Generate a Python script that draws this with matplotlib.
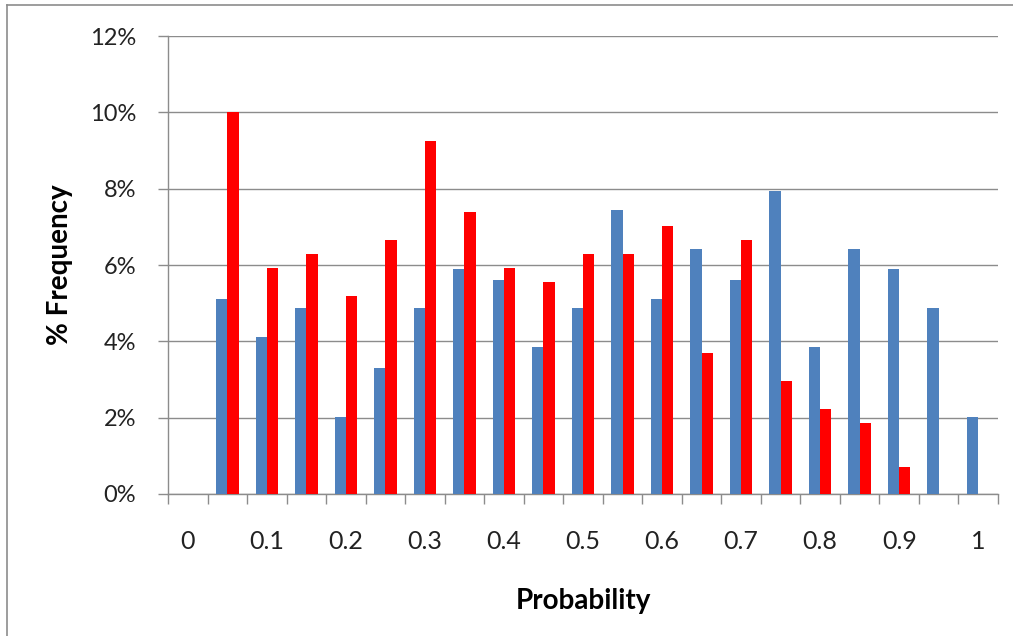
import matplotlib.pyplot as plt
import numpy as np
from matplotlib.lines import Line2D

# categories 0, 0.05, ..., 1 (only every other one gets a label)
probability = [0, 0.05, 0.1, 0.15, 0.2, 0.25, 0.3, 0.35, 0.4, 0.45, 0.5,
               0.55, 0.6, 0.65, 0.7, 0.75, 0.8, 0.85, 0.9, 0.95, 1]
tick_labels = ["0", "", "0.1", "", "0.2", "", "0.3", "", "0.4", "", "0.5",
               "", "0.6", "", "0.7", "", "0.8", "", "0.9", "", "1"]
# % frequency
blue_freq = [0, 5.12, 4.12, 4.87, 2.02, 3.31, 4.87, 5.90, 5.62, 3.84, 4.87,
             7.43, 5.12, 6.43, 5.62, 7.94, 3.84, 6.43, 5.90, 4.87, 2.02]
red_freq = [0, 10.0, 5.93, 6.28, 5.19, 6.65, 9.25, 7.39, 5.93, 5.55, 6.28,
            6.28, 7.03, 3.69, 6.65, 2.96, 2.23, 1.85, 0.72, 0, 0]

W, H = 1013, 636
plt.rcParams["font.family"] = ["Lato", "DejaVu Sans"]
fig = plt.figure(figsize=(W / 100, H / 100), dpi=100)
ax = fig.add_axes([168 / W, 1 - 494 / H, (998 - 168) / W, (494 - 36) / H])

grey = "#8c8c8c"
x = np.arange(len(probability))
bw = 1 / 3.5  # excel gap width 150%
ax.bar(x - bw / 2, blue_freq, width=bw, color="#4f81bd", zorder=3)
ax.bar(x + bw / 2, red_freq, width=bw, color="#ff0000", zorder=3)

ax.set_xlim(-0.5, len(probability) - 0.5)
ax.set_ylim(0, 12)
ax.set_yticks(range(0, 13, 2))
ax.set_yticklabels([f"{v}%" for v in range(0, 13, 2)], fontsize=17, color="#222222")
ax.yaxis.grid(True, color=grey, linewidth=1, zorder=0)

# labels at category centres, tick marks between categories
ax.set_xticks(x)
ax.set_xticklabels(tick_labels, fontsize=18, color="#222222")
ax.tick_params(axis="x", length=0, pad=26)
ax.set_xticks(np.arange(-0.5, len(probability)), minor=True)
ax.tick_params(axis="x", which="minor", length=7, color=grey, width=1)
ax.tick_params(axis="y", length=7, color=grey, width=1, pad=16)

for s in ["top", "right"]:
    ax.spines[s].set_visible(False)
for s in ["left", "bottom"]:
    ax.spines[s].set_color(grey)
    ax.spines[s].set_linewidth(1)

ax.set_xlabel("Probability", fontsize=20, fontweight="bold", labelpad=25)
ax.set_ylabel("% Frequency", fontsize=20, fontweight="bold", labelpad=12)

# chart area border (only left and top are visible in the picture)
fig.add_artist(Line2D([7 / W, 7 / W], [0, 1 - 5 / H], color=grey, linewidth=1.2))
fig.add_artist(Line2D([7 / W, 1], [1 - 5 / H, 1 - 5 / H], color=grey, linewidth=1.2))

fig.savefig("out.png", dpi=100)
